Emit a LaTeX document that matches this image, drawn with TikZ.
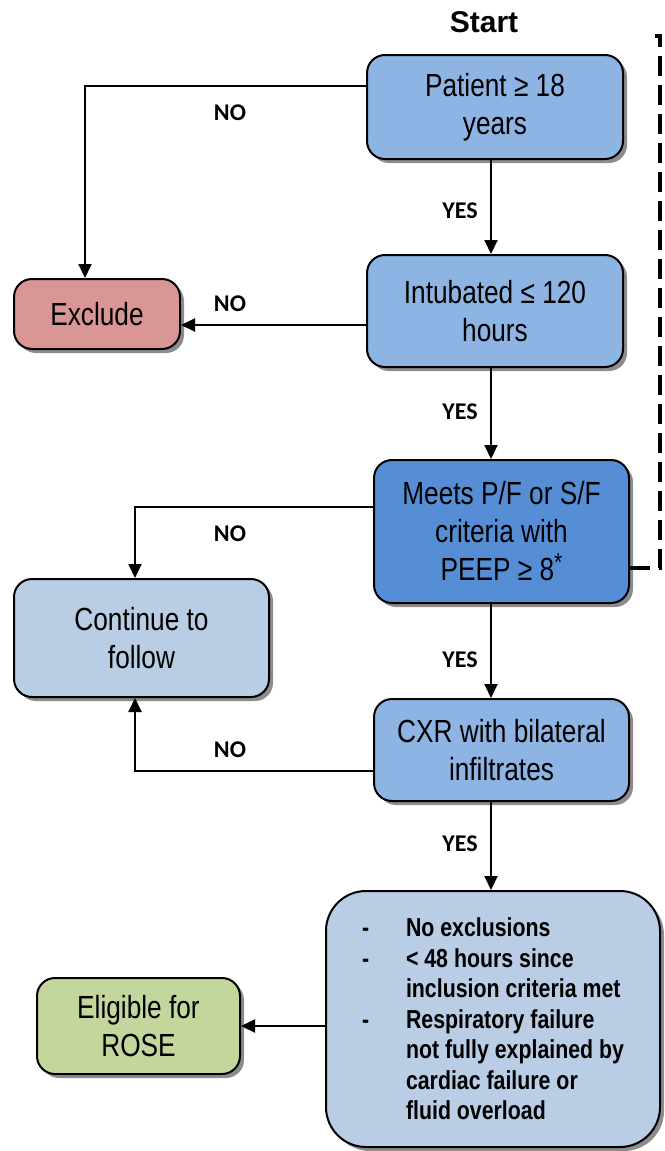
\documentclass[tikz,border=0pt]{standalone}
\usepackage{fontspec}
\setmainfont{Liberation Sans}[FakeStretch=0.82]
\newfontfamily\answerfont{Carlito}
\newfontfamily\startfont{Liberation Sans}
\usetikzlibrary{arrows.meta,shadows,positioning,calc}
\definecolor{stepblue}{HTML}{8EB4E3}
\definecolor{keyblue}{HTML}{558ED5}
\definecolor{paleblue}{HTML}{B9CDE5}
\definecolor{excludered}{HTML}{D99694}
\definecolor{eligiblegreen}{HTML}{C3D69B}

\begin{document}
\begin{tikzpicture}[x=1pt,y=-1pt,
  checkbox/.style={rectangle,rounded corners=18pt,draw=black,line width=2pt,align=center,inner sep=0pt,font=\fontsize{32}{38}\selectfont,drop shadow={shadow xshift=4pt,shadow yshift=-4pt,fill=black!45,opacity=1}},
  answer/.style={font=\answerfont\bfseries\fontsize{24}{28}\selectfont},
  flow/.style={->,line width=2pt},
  >={Triangle[length=14pt,width=13pt]}]
	\useasboundingbox (0,0) rectangle (664,1151);
	\coordinate (spine) at (491,0);
	\node (start) at (484,22) {\startfont\bfseries\fontsize{30}{34}\selectfont Start};
	\node (patient) [checkbox,fill=stepblue,minimum width=256pt,minimum height=104pt] at (495,107) {Patient ≥ 18\\years};
	\node (intub) [checkbox,fill=stepblue,minimum width=256pt,minimum height=112pt] at (495,311) {Intubated ≤ 120\\hours};
	\node (meets) [checkbox,fill=keyblue,minimum width=255pt,minimum height=143pt] at (501.5,531.5) {Meets P/F or S/F\\criteria with\\PEEP ≥ 8\raisebox{0.3em}{\fontsize{26}{26}\selectfont *}};
	\node (cont) [checkbox,fill=paleblue,minimum width=255pt,minimum height=118pt] at (141.5,638) {Continue to\\follow};
	\node (cxr) [checkbox,fill=stepblue,minimum width=255pt,minimum height=102pt] at (501.5,750) {CXR with bilateral\\infiltrates};
	\node (crit) [checkbox,fill=paleblue,minimum width=334pt,minimum height=256pt,rounded corners=40pt,align=left,font=\bfseries\fontsize{26}{30.5}\selectfont] at (493,1019) {%
		\makebox[44pt][l]{-}No exclusions\\
		\makebox[44pt][l]{-}< 48 hours since\\
		\hspace*{44pt}inclusion criteria met\\
		\makebox[44pt][l]{-}Respiratory failure\\
		\hspace*{44pt}not fully explained by\\
		\hspace*{44pt}cardiac failure or\\
		\hspace*{44pt}fluid overload};
	\node (excl) [checkbox,fill=excludered,minimum width=166pt,minimum height=70pt] at (97,314) {Exclude};
	\node (elig) [checkbox,fill=eligiblegreen,minimum width=203pt,minimum height=96pt] at (138.5,1026) {Eligible for\\ROSE};
	% yes branch
	\draw[flow] (spine |- patient.south) -- (spine |- intub.north);
	\draw[flow] (spine |- intub.south) -- (spine |- meets.north);
	\draw[flow] (spine |- meets.south) -- (spine |- cxr.north);
	\draw[flow] (spine |- cxr.south) -- (spine |- crit.north);
	\draw[flow] (elig.east -| crit.west) -- (elig.east);
	% no branch
	\draw[flow] ([yshift=21pt]patient.west) -| ([xshift=-12pt]excl.north);
	\draw[flow] ([yshift=-14pt]intub.west) -- ([yshift=-14pt]intub.west -| excl.east);
	\draw[flow] ([yshift=24.5pt]meets.west) -| ([xshift=-6.5pt]cont.north);
	\draw[flow] ([yshift=-21pt]cxr.west) -| ([xshift=-6.5pt]cont.south);
	\node (yes1) [answer] at (460,211) {YES};
	\node (yes2) [answer] at (460,412) {YES};
	\node (yes3) [answer] at (460,660) {YES};
	\node (yes4) [answer] at (460,844) {YES};
	\node (no1) [answer] at (230,113) {NO};
	\node (no2) [answer] at (230,304) {NO};
	\node (no3) [answer] at (230,534) {NO};
	\node (no4) [answer] at (230,750) {NO};
	% dashed return
	\coordinate (dashtop) at (655,36);
	\draw[line width=4pt,dash pattern=on 20pt off 9pt] ([yshift=-36.5pt]meets.east) -| ([xshift=5pt]dashtop) -- (dashtop);
\end{tikzpicture}
\end{document}
